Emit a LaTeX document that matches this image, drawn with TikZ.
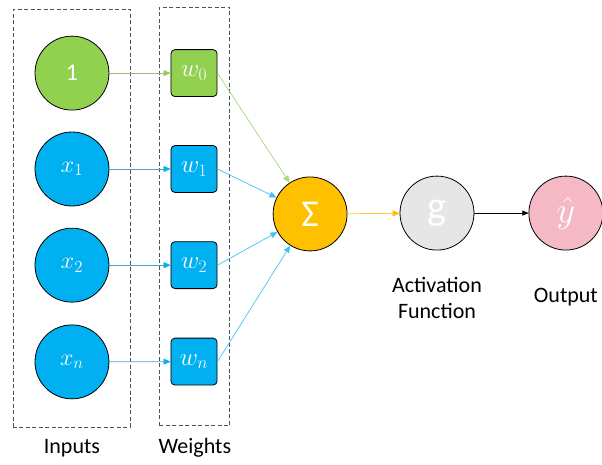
\RequirePackage{fix-cm}
\documentclass[tikz,border=0pt]{standalone}
\usepackage{amsmath}
\usepackage{fontspec}
\setmainfont{Carlito}
\usepackage{tikz}
\usetikzlibrary{arrows.meta}

\definecolor{ingreen}{HTML}{92D050}
\definecolor{inblue}{HTML}{00B0F0}
\definecolor{sumorange}{HTML}{FFC000}
\definecolor{actgray}{HTML}{E6E6E6}
\definecolor{outpink}{HTML}{F4B9C5}
\definecolor{boxgray}{HTML}{44546A}

\tikzset{
  neuron/.style={circle, draw=black, line width=0.8pt, minimum size=2.6cm, inner sep=0pt, text=white, font=\fontsize{24}{28}\selectfont},
  wbox/.style={rectangle, rounded corners=4pt, draw=black, line width=0.8pt, minimum width=1.62cm, minimum height=1.65cm, inner sep=0pt, text=white, font=\fontsize{25}{28}\selectfont},
  groupbox/.style={draw=boxgray, line width=0.8pt, dash pattern=on 4pt off 2.5pt},
  caption/.style={font=\fontsize{22}{26}\selectfont, align=center},
  link/.style={line width=0.7pt, -{Triangle[length=7pt,width=6pt]}}
}

\begin{document}
\begin{tikzpicture}
\useasboundingbox (0,0) rectangle (21.16,16.31);

% Inputs
\draw[groupbox] (0.46,1.30) rectangle (4.57,15.99);
\node[neuron, fill=ingreen] (in0) at (2.53,13.74) {1};
\node[neuron, fill=inblue] (in1) at (2.53,10.37) {$x_1$};
\node[neuron, fill=inblue] (in2) at (2.53,6.99) {$x_2$};
\node[neuron, fill=inblue] (inn) at (2.53,3.59) {$x_n$};
\node[caption] (inlabel) at (2.53,0.56) {Inputs};

% Weights
\draw[groupbox] (5.59,1.34) rectangle (8.08,16.06);
\node[wbox, fill=ingreen] (w0) at (6.82,13.74) {$w_0$};
\node[wbox, fill=inblue] (w1) at (6.82,10.37) {$w_1$};
\node[wbox, fill=inblue] (w2) at (6.82,6.99) {$w_2$};
\node[wbox, fill=inblue] (wn) at (6.82,3.60) {$w_n$};
\node[caption] (wlabel) at (6.85,0.56) {Weights};

% Sum, activation and output
\node[neuron, fill=sumorange, font=\fontsize{38}{42}\selectfont] (sum) at (10.90,8.79) {Σ};
\node[neuron, fill=actgray, font=\fontsize{40}{44}\selectfont] (act) at (15.36,8.82) {g};
\node[neuron, fill=outpink, font=\fontsize{36}{40}\selectfont] (out) at (19.89,8.82) {$\hat{y}$};
\node[caption] (actlabel) at (15.36,5.83) {Activation\\Function};
\node[caption] (outlabel) at (19.89,5.87) {Output};

% Inputs to weights
\draw[link, color=ingreen!45!gray!80, -{Triangle[length=7pt,width=6pt,color=ingreen]}] (in0) -- (w0);
\draw[link, color=inblue!40!gray!90, -{Triangle[length=7pt,width=6pt,color=inblue]}] (in1) -- (w1);
\draw[link, color=inblue!60!gray!90, -{Triangle[length=7pt,width=6pt,color=inblue]}] (in2) -- (w2);
\draw[link, color=inblue!60!gray!90, -{Triangle[length=7pt,width=6pt,color=inblue]}] (inn) -- (wn);

% Weights to sum
\draw[link, color=ingreen!80] (w0.east) -- (sum);
\draw[link, color=inblue!75] (w1.east) -- (sum);
\draw[link, color=inblue!75] (w2.east) -- (sum);
\draw[link, color=inblue!75] (wn.east) -- (sum);

% Sum to output
\draw[link, color=sumorange!80, -{Triangle[length=7pt,width=6pt,color=sumorange]}] (sum) -- (act);
\draw[link, color=black, line width=0.4pt, -{Triangle[length=6pt,width=5pt]}] (act) -- (out);

\end{tikzpicture}
\end{document}
